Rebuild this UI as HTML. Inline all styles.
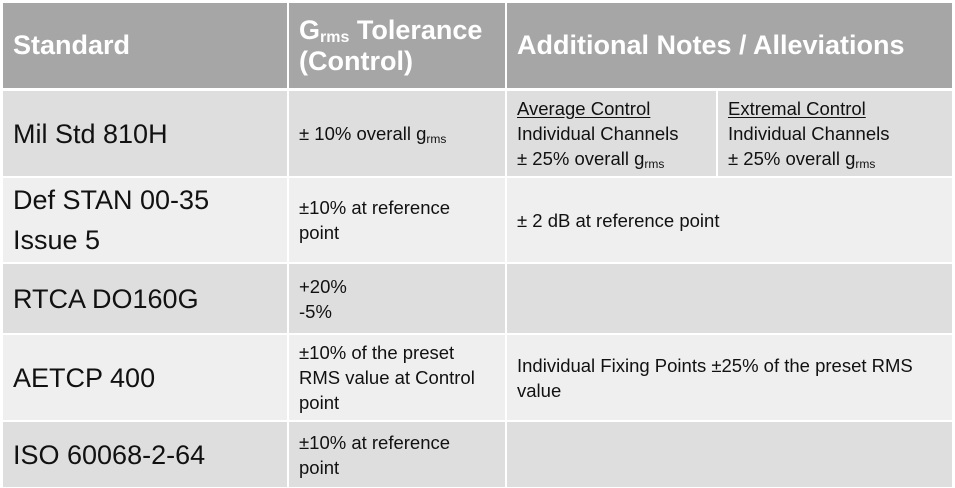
<!DOCTYPE html>
<html><head><meta charset="utf-8"><style>
body{margin:0;width:955px;height:488px;background:#fff;overflow:hidden;font-family:"Liberation Sans",sans-serif;}
.c{position:absolute;box-sizing:border-box;display:flex;align-items:center;padding-left:10px;color:#111;}
.h{background:#a6a6a6;color:#fff;font-weight:bold;font-size:27px;line-height:31px;}
.a{background:#dedede}.b{background:#efefef}
.big{font-size:27px;line-height:40px}
.sm{font-size:18.5px;line-height:25px}
u{text-underline-offset:2px}
sub{font-size:12px;vertical-align:-3px;line-height:0}
</style></head><body>
<div class="c h" style="left:3px;top:3px;width:284px;height:85px">Standard</div>
<div class="c h" style="left:289px;top:3px;width:216px;height:85px"><div>G<sub style="font-size:16px">rms</sub> Tolerance<br>(Control)</div></div>
<div class="c h" style="left:507px;top:3px;width:445px;height:85px">Additional Notes / Alleviations</div>

<div class="c a big" style="left:3px;top:91px;width:284px;height:85px">Mil Std 810H</div>
<div class="c a sm" style="left:289px;top:91px;width:216px;height:85px"><div>± 10% overall g<sub>rms</sub></div></div>
<div class="c a sm" style="left:507px;top:91px;width:209px;height:85px"><div><u>Average Control</u><br>Individual Channels<br>± 25% overall g<sub>rms</sub></div></div>
<div class="c a sm" style="left:718px;top:91px;width:234px;height:85px"><div><u>Extremal Control</u><br>Individual Channels<br>± 25% overall g<sub>rms</sub></div></div>

<div class="c b big" style="left:3px;top:178px;width:284px;height:84px"><div>Def STAN 00-35<br>Issue 5</div></div>
<div class="c b sm" style="left:289px;top:178px;width:216px;height:84px"><div>±10% at reference<br>point</div></div>
<div class="c b sm" style="left:507px;top:178px;width:445px;height:84px">± 2 dB at reference point</div>

<div class="c a big" style="left:3px;top:264px;width:284px;height:69px">RTCA DO160G</div>
<div class="c a sm" style="left:289px;top:264px;width:216px;height:69px"><div>+20%<br>-5%</div></div>
<div class="c a sm" style="left:507px;top:264px;width:445px;height:69px"></div>

<div class="c b big" style="left:3px;top:335px;width:284px;height:85px">AETCP 400</div>
<div class="c b sm" style="left:289px;top:335px;width:216px;height:85px"><div>±10% of the preset<br>RMS value at Control<br>point</div></div>
<div class="c b sm" style="left:507px;top:335px;width:445px;height:85px"><div>Individual Fixing Points ±25% of the preset RMS<br>value</div></div>

<div class="c a big" style="left:3px;top:422px;width:284px;height:65px">ISO 60068-2-64</div>
<div class="c a sm" style="left:289px;top:422px;width:216px;height:65px"><div>±10% at reference<br>point</div></div>
<div class="c a sm" style="left:507px;top:422px;width:445px;height:65px"></div>
</body></html>
